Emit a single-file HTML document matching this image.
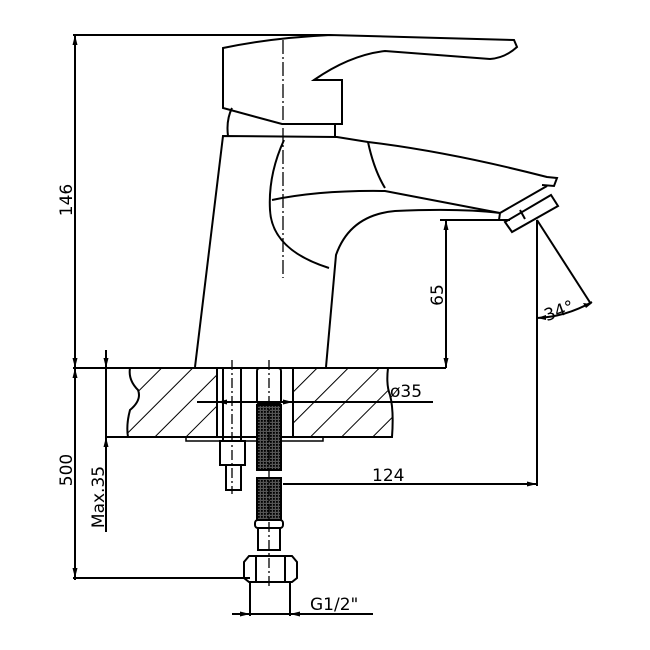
<!DOCTYPE html>
<html><head><style>html,body{margin:0;padding:0;background:#fff}svg{display:block}</style></head>
<body>
<svg width="650" height="650" viewBox="0 0 650 650" xmlns="http://www.w3.org/2000/svg" font-family="'DejaVu Sans','Liberation Sans',sans-serif" font-size="16" fill="none" stroke="#000" stroke-width="2">
<defs>
<pattern id="h" patternUnits="userSpaceOnUse" width="22" height="22" patternTransform="rotate(45)">
<line x1="0" y1="0" x2="0" y2="22" stroke="#000" stroke-width="2"/>
</pattern>
<pattern id="m" patternUnits="userSpaceOnUse" width="3" height="3">
<rect width="3" height="3" fill="#555" stroke="none"/><rect width="1.8" height="1.8" fill="#000" stroke="none"/>
</pattern>
</defs>

<!-- counter hatch -->
<path d="M130,368 Q128,380 138,390 Q142,400 130,410 Q126,425 128,437 L217,437 L217,368 Z" fill="url(#h)"/>
<path d="M293,368 L388,368 Q386,385 390,395 Q394,410 392,437 L293,437 Z" fill="url(#h)"/>
<line x1="73" y1="368" x2="446" y2="368"/>
<line x1="106" y1="437" x2="392" y2="437"/>
<line x1="217" y1="368" x2="217" y2="437"/>
<line x1="293" y1="368" x2="293" y2="437"/>
<rect x="186" y="437" width="137" height="4" stroke-width="1.5"/>

<!-- bolt -->
<rect x="223" y="368" width="18" height="73"/>
<rect x="220" y="441" width="25" height="24"/>
<rect x="226" y="465" width="15" height="25"/>
<line x1="232" y1="360" x2="232" y2="494" stroke-dasharray="10,3,2,3" stroke-width="1.3"/>

<!-- hose -->
<rect x="257" y="368" width="24" height="36" rx="3"/>
<rect x="257" y="405" width="24" height="65" fill="url(#m)"/>
<rect x="257" y="478" width="24" height="42" fill="url(#m)"/>
<rect x="255" y="520" width="28" height="8" rx="3"/>
<rect x="258" y="528" width="22" height="22"/>
<path d="M249,556 L292,556 L297,562 L297,578 L292,582 L249,582 L244,578 L244,562 Z"/>
<line x1="256" y1="556" x2="256" y2="582"/><line x1="285" y1="556" x2="285" y2="582"/>
<line x1="269" y1="360" x2="269" y2="586" stroke-dasharray="10,3,2,3" stroke-width="1.3"/>

<!-- faucet body -->
<path d="M223,48 Q270,38 330,35 L514,40 L517,47 Q505,58 490,59 L385,51 Q350,55 314,80 L342,80 L342,124 L282,124 L223,108 Z"/>
<path d="M232,108 Q226,120 228,136 M335,124 L335,137"/>
<path d="M195,367 L223,136 L337,137 L368,142 Q450,152 547,177 L557,178 L554,186 L542,185"/>
<path d="M368,142 Q374,170 385,188"/>
<path d="M272,200 Q320,190 385,191 L500,213 Q460,208 395,211 Q350,215 336,255 L326,367"/>
<path d="M284,140 Q268,175 270,210 Q272,250 329,268"/>
<path d="M500,213 L547,186 M500,213 L499,220 L510,220"/>
<path d="M505,222 L512,232 L558,206 L551,195 Z"/>
<line x1="520" y1="210" x2="525" y2="219"/>
<line x1="283" y1="40" x2="283" y2="278" stroke-dasharray="14,3,2,3" stroke-width="1.3"/>

<!-- dimensions -->
<line x1="73" y1="35" x2="330" y2="35"/>
<line x1="75" y1="35" x2="75" y2="580"/>
<line x1="73" y1="578" x2="250" y2="578"/>
<line x1="106" y1="350" x2="106" y2="532"/>
<line x1="446" y1="220" x2="446" y2="368"/>
<line x1="440" y1="220" x2="505" y2="220"/>
<line x1="537" y1="220" x2="537" y2="486"/>
<line x1="537" y1="220" x2="591" y2="304"/>
<path d="M537,318 Q565,317 592,302"/>
<line x1="283" y1="484" x2="537" y2="484"/>
<line x1="197" y1="402" x2="433" y2="402"/>
<line x1="250" y1="582" x2="250" y2="616"/>
<line x1="290" y1="582" x2="290" y2="616"/>
<line x1="232" y1="614" x2="373" y2="614"/>

<g fill="#000" stroke="none">
<path d="M75,35 l-2.5,10 h5z M75,368 l-2.5,-10 h5z M75,368 l-2.5,10 h5z M75,578 l-2.5,-10 h5z"/>
<path d="M106,368 l-2.5,-10 h5z M106,437 l-2.5,10 h5z"/>
<path d="M446,220 l-2.5,10 h5z M446,368 l-2.5,-10 h5z"/>
<path d="M537,484 l-10,-2.5 v5z"/>
<path d="M250,614 l-10,-2.5 v5z M290,614 l10,-2.5 v5z"/>
<path d="M217,402 l10,-2.5 v5z M293,402 l-10,-2.5 v5z"/>
<path d="M537,318 l9,-3 v5z M591,304 l-8,-1 l3,5z"/>
</g>

<g fill="#000" stroke="none" font-size="17">
<text transform="translate(72,200) rotate(-90)" text-anchor="middle">146</text>
<text transform="translate(72,470) rotate(-90)" text-anchor="middle">500</text>
<text transform="translate(104,497) rotate(-90)" text-anchor="middle">Max.35</text>
<text transform="translate(443,295) rotate(-90)" text-anchor="middle">65</text>
<text x="390" y="397">ø35</text>
<text x="372" y="481">124</text>
<text x="310" y="610">G1/2"</text>
<text x="543" y="316" transform="rotate(-20 560 308)">34°</text>
</g>
</svg>
</body></html>
